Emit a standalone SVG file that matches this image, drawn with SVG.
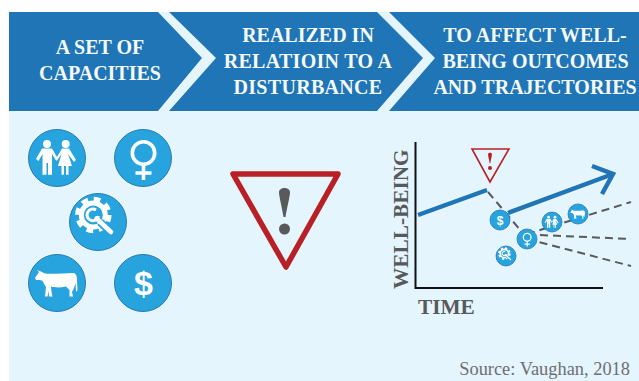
<svg xmlns="http://www.w3.org/2000/svg" width="639" height="381" viewBox="0 0 639 381">
<style>
.band{font:bold 20px "Liberation Serif",serif;fill:#f4fafd;text-anchor:middle}
.wide{letter-spacing:.3px}
.axis{font:bold 21.300px "Liberation Serif",serif;fill:#58595b}
.c{fill:#27a4dd;stroke:#2a7ab5;stroke-width:1}
.cs{fill:#27a4dd;stroke:#2a7ab5;stroke-width:.8}
.dash{fill:none;stroke:#58595b;stroke-width:2;stroke-dasharray:8 5}
.blue{fill:none;stroke:#1f75b5;stroke-width:4.500}
</style>
<defs>
<g id="i-people" fill="#fff">
<circle cx="-10" cy="-14" r="4"/><circle cx="8.700" cy="-14" r="4"/>
<path d="M-15,-9.500H-5L0,-1 5,-9.500H12L19,2 17,4 11,-4 15,8H11.500V16.700H9V8H7V16.700H4.500V8H1L4.500,-4 0,2.500-1,2.500-5,-4V16.700H-9V5H-10.500V16.700H-14.500V-4L-18.500,3-21,1Z"/>
</g>
<g id="i-female" fill="none" stroke="#fff" stroke-width="3.600">
<circle cx="0.500" cy="-5" r="11.200"/><path d="M0.500,6V22M-7.500,15H8.500"/>
</g>
<g id="i-gear" fill="none">
<circle cx="-4.700" cy="-7" r="12" stroke="#fff" stroke-width="5"/>
<circle cx="-4.700" cy="-7" r="15.500" stroke="#fff" stroke-width="5.500" stroke-dasharray="6.500 5.670"/>
<path d="M2,0L16,13" stroke="#27a4dd" stroke-width="8"/>
<path d="M-1.500,-3.500L13,10" stroke="#fff" stroke-width="4.500" stroke-linecap="round"/>
<path d="M-2,-12A5.800,5.800 0 1 0 0.500,-6" stroke="#fff" stroke-width="3"/>
</g>
<g id="i-cow" fill="#fff">
<path d="M-22,-5L-18,-11-20,-13-15,-11-12,-9.500C-5,-8.500 8,-10 17,-10 19.500,-9 20,-6 20,-3L20.500,7 19,9 18.500,0 17,5 15,9 16,13.500H12.500L12.500,7 9,3.500C3,5-3,4.500-6,3.500L-5.500,9-4.500,13.500H-8L-8.500,8-9.500,13.500H-12L-11,4C-13,1-13.500,-1-15,-2.500L-18,-3-21,-3Z"/>
</g>
<path id="i-excl" d="M0,-16C3,-16 5.500,-14.500 5.500,-11.500C5.500,-8 2,6 1,13H-1C-2,6-5.500,-8-5.500,-11.500C-5.500,-14.500-3,-16 0,-16Z"/>
</defs>

<rect x="9" y="111" width="630" height="270" fill="#e5f5fd"/>
<rect x="9" y="12" width="630" height="99" fill="#1f75b5"/>
<path d="M158,12H169L216,58 169,111H158L202,58Z" fill="#e5f5fd"/>
<path d="M377,12H389L435,58 389,111H377L423,58Z" fill="#e5f5fd"/>

<g id="connectors">
<path class="blue" d="M418,215L487,190"/>
<path class="blue" d="M508,213L613,174"/>
<path class="blue" d="M592,166L613,174 602,194"/>
<path class="dash" d="M488,192L527,238"/>
<path class="dash" d="M527,234L631,202"/>
<path class="dash" d="M527,234.500L631,239"/>
<path class="dash" d="M527,239L631,266"/>
</g>

<g id="header-1"><text class="band" x="100" y="54">A SET OF</text><text class="band" x="100" y="80">CAPACITIES</text></g>
<g id="header-2"><text class="band" x="308" y="42">REALIZED IN</text><text class="band wide" x="308" y="68">RELATIOIN TO A</text><text class="band wide" x="308" y="94">DISTURBANCE</text></g>
<g id="header-3"><text class="band" x="535" y="42">TO AFFECT WELL-</text><text class="band" x="535.500" y="68">BEING OUTCOMES</text><text class="band" x="535" y="94">AND TRAJECTORIES</text></g>

<g id="node-people"><circle class="c" cx="57" cy="158" r="28.500"/><use href="#i-people" x="57" y="158"/></g>
<g id="node-female"><circle class="c" cx="143" cy="158" r="28.500"/><use href="#i-female" x="143" y="158"/></g>
<g id="node-gear"><circle class="c" cx="98" cy="222" r="28.500"/><use href="#i-gear" x="98" y="222"/></g>
<g id="node-cow"><circle class="c" cx="57" cy="283" r="28.500"/><use href="#i-cow" x="57" y="283"/></g>
<g id="node-dollar"><circle class="c" cx="143" cy="283" r="28.500"/><text x="143.500" y="295" font-family="Liberation Sans" font-weight="bold" font-size="34" fill="#fff" text-anchor="middle">$</text></g>

<g id="node-warning"><path d="M233,174H338L286,267Z" fill="none" stroke="#b92025" stroke-width="5.500" stroke-linejoin="round"/><use href="#i-excl" x="284.500" y="204" fill="#58595b"/><circle cx="284.500" cy="229" r="5.500" fill="#58595b"/></g>

<g id="chart-axes"><path d="M415.500,142V288H603" fill="none" stroke="#111" stroke-width="2"/>
<text class="axis" transform="translate(408,289) rotate(-90)">WELL-BEING</text>
<text class="axis" x="418" y="314">TIME</text></g>

<g id="node-warning-small"><path d="M472,149H509L490,182Z" fill="none" stroke="#b92025" stroke-width="1.600"/><use href="#i-excl" transform="translate(490,158.500) scale(.36)" fill="#b92025"/><circle cx="490" cy="168" r="2" fill="#b92025"/></g>

<g id="node-dollar-small"><circle class="cs" cx="500" cy="220" r="10"/><text x="500" y="224.500" font-family="Liberation Sans" font-weight="bold" font-size="12" fill="#fff" text-anchor="middle">$</text></g>
<g id="node-female-small"><circle class="cs" cx="527" cy="239" r="10"/><use href="#i-female" transform="translate(527,239) scale(.345)"/></g>
<g id="node-gear-small"><circle class="cs" cx="506" cy="256" r="10"/><use href="#i-gear" transform="translate(506,256) scale(.345)"/></g>
<g id="node-people-small"><circle class="cs" cx="552" cy="222" r="10"/><use href="#i-people" transform="translate(552,222) scale(.345)"/></g>
<g id="node-cow-small"><circle class="cs" cx="578" cy="214" r="10"/><use href="#i-cow" transform="translate(578,214) scale(.345)"/></g>

<text x="630" y="375" font-family="Liberation Serif,serif" font-size="18.400" fill="#6d6e71" text-anchor="end">Source: Vaughan, 2018</text>
</svg>
